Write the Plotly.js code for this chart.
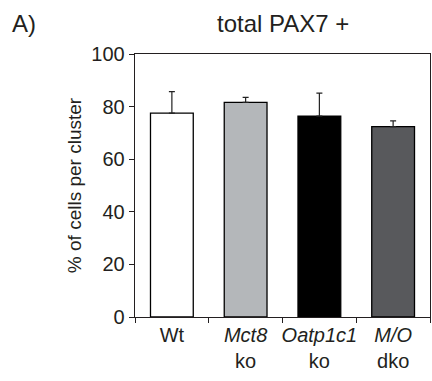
<!DOCTYPE html>
<html><head><meta charset="utf-8">
<script src="https://cdn.plot.ly/plotly-3.0.1.min.js"></script>
<style>html,body{margin:0;padding:0;background:#fff}</style>
</head><body>
<div id="chart" style="width:432px;height:381px"></div>
<script>
var categories = ["Wt", "<i>Mct8</i><br>ko", "<i>Oatp1c1</i><br>ko", "<i>M/O</i><br>dko"];
var values = [77.5, 81.6, 76.4, 72.4];
var errors = [8.2, 1.9, 8.7, 2.2];
var colors = ["#ffffff", "#b4b7ba", "#000000", "#58595c"];

var trace = {
  type: "bar",
  x: categories,
  y: values,
  marker: {color: colors, line: {color: "#000", width: 1.3}},
  error_y: {type: "data", symmetric: false, array: errors, arrayminus: errors.map(function(){return 0;}),
            color: "#222", thickness: 1.2, width: 3},
  width: 0.58,
  hoverinfo: "none"
};

var layout = {
  width: 432, height: 381,
  margin: {l: 135, r: 2, t: 54, b: 64},
  paper_bgcolor: "#fff", plot_bgcolor: "#fff",
  font: {family: "Liberation Sans, Arial, sans-serif", color: "#231f20", size: 20},
  showlegend: false,
  xaxis: {
    type: "category",
    tickson: "boundaries",
    ticks: "outside", ticklen: 5, tickcolor: "#231f20", tickwidth: 1,
    showline: true, linecolor: "#231f20", linewidth: 1.3, mirror: true,
    showgrid: false, zeroline: false,
    tickfont: {size: 20, color: "#231f20"},
    tickangle: 0
  },
  yaxis: {
    range: [0, 100], tickvals: [0, 20, 40, 60, 80, 100],
    ticks: "outside", ticklen: 5, tickcolor: "#231f20", tickwidth: 1,
    showline: true, linecolor: "#231f20", linewidth: 1.3, mirror: true,
    showgrid: false, zeroline: false,
    tickfont: {size: 20, color: "#231f20"},
    title: {text: "% of cells per cluster", font: {size: 19, color: "#231f20"}, standoff: 4}
  },
  annotations: [
    {text: "total PAX7 +", xref: "paper", yref: "paper", x: 0.5, y: 1, yshift: 31, xanchor: "center", yanchor: "middle",
     showarrow: false, font: {size: 24, color: "#231f20"}},
    {text: "A)", xref: "paper", x: -135/295, xanchor: "left", xshift: 10, yref: "paper", y: 1, yshift: 31, yanchor: "middle",
     showarrow: false, font: {size: 24, color: "#231f20"}}
  ]
};

Plotly.newPlot("chart", [trace], layout, {displayModeBar: false, staticPlot: true});
</script>
</body></html>
